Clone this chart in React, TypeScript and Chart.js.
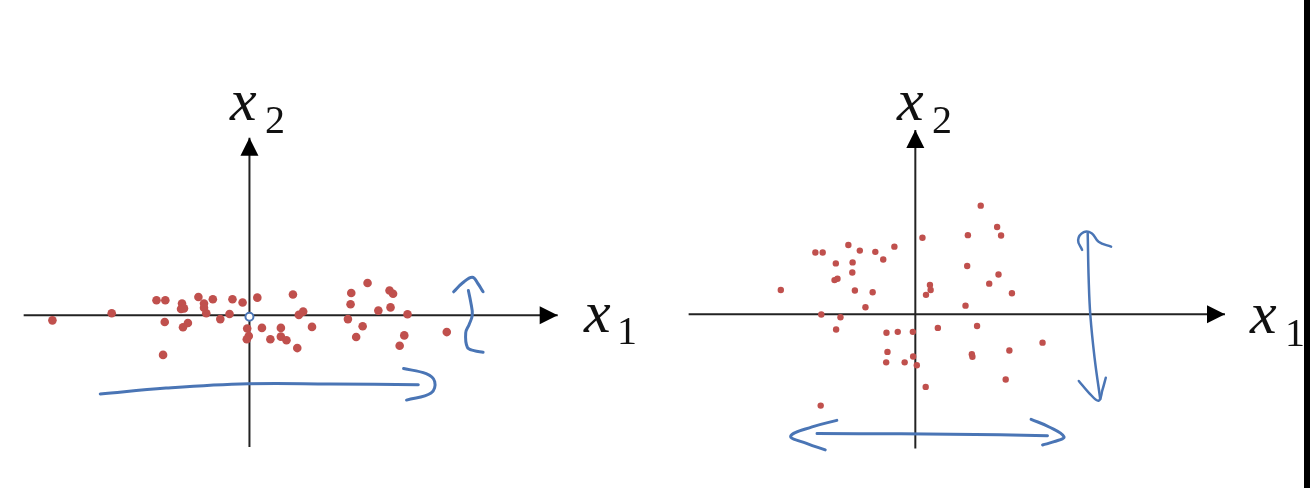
import React, { useEffect, useRef } from "react";
import { Chart, registerables } from "chart.js";

Chart.register(...registerables);

type P = [number, number];

// ---- Left panel data (units relative to the origin) ----
const leftDots: P[] = [
  [-20.07, -0.53], [-14.03, 0.2], [-9.47, 1.53], [-8.57, 1.53], [-8.63, -0.7],
  [-8.8, -4.07], [-6.87, 1.2], [-6.97, 0.63], [-6.67, 0.7], [-6.77, -1.23],
  [-6.27, -0.8], [-5.2, 1.87], [-4.63, 1.2], [-4.63, 0.77], [-4.4, 0.2],
  [-3.73, 1.63], [-2.97, -0.4], [-2.03, 0.13], [-1.73, 1.63], [-0.7, 1.3],
  [-0.23, -1.37], [-0.07, -2.13], [-0.27, -2.47], [0.8, 1.8], [4.43, 2.13],
  [1.27, -1.3], [3.2, -1.3], [2.13, -2.47], [3.2, -2.2], [3.77, -2.57],
  [4.87, -3.37], [5.03, 0.03], [5.47, 0.37], [6.37, -1.2], [10.37, 2.27],
  [10.3, 1.13], [10.03, -0.4], [11.53, -1.13], [10.87, -2.23], [12.03, 3.3],
  [13.13, 0.47], [14.27, 2.53], [14.63, 2.2], [14.37, 0.8], [16.1, 0.1],
  [15.77, -2.07], [15.3, -3.13], [20.1, -1.73],
];
const leftOriginMark: P[] = [[0, -0.15]];
const leftAxisX: P[] = [[-23, 0], [31.4, 0]];
const leftAxisY: P[] = [[0, -13.5], [0, 18.2]];
const leftHorizShaft: P[] = [[-15.2, -8.07], [-8.5, -7.47], [-0.13, -7.03], [8.2, -7.05], [17.2, -7.13]];
const leftHorizHead: P[] = [[15.7, -5.47], [18, -6], [18.87, -6.8], [18.5, -7.97], [16, -8.7]];
const leftVertHead: P[] = [[20.8, 2.4], [21.7, 3.3], [22.7, 3.9], [23.3, 3.2], [23.8, 2.4]];
const leftVertShaft: P[] = [[22.3, 2.53], [22.53, 1.4], [22.7, 0.03], [22.37, -0.97], [22.03, -1.8], [22.2, -3.3], [22.87, -3.63], [23.8, -3.8]];

// ---- Right panel data ----
const rightDots: P[] = [
  [-13.62, 2.48], [-10.12, 6.28], [-9.38, 6.28], [-6.78, 7.05], [-5.62, 6.48],
  [-4.05, 6.35], [-2.12, 6.88], [-3.25, 5.58], [-8.05, 5.18], [-6.35, 5.28],
  [-6.38, 4.25], [-8.18, 3.48], [-7.88, 3.62], [-6.12, 2.42], [-4.32, 2.25],
  [-5.05, 0.72], [-9.52, -0.02], [-7.58, -0.3], [0.72, 7.78], [6.62, 11.05],
  [8.28, 8.88], [8.68, 8.02], [5.32, 8.05], [5.25, 4.92], [8.42, 4.05],
  [7.48, 3.12], [1.48, 2.98], [1.55, 2.48], [1.08, 1.98], [9.78, 2.15],
  [5.08, 0.88], [-8.02, -1.55], [-2.92, -1.88], [-1.78, -1.78], [-0.25, -1.78],
  [-2.82, -3.82], [-2.95, -4.88], [-1.08, -4.88], [-0.22, -4.28], [0.15, -5.18],
  [-9.58, -9.28], [2.28, -1.38], [6.25, -1.18], [12.88, -2.88], [9.52, -3.68],
  [5.72, -4.05], [5.78, -4.32], [1.05, -7.38], [9.15, -6.62],
];
const rightAxisX: P[] = [[-22.95, 0], [31.35, 0]];
const rightAxisY: P[] = [[0, -13.65], [0, 18.75]];
const rightVertShaft: P[] = [[17.45, 8.25], [17.55, 3.55], [17.72, -0.12], [18.15, -4.45], [18.72, -8.62]];
const rightVertTop: P[] = [[16.88, 6.55], [16.48, 7.55], [17.05, 8.35], [17.85, 8.25], [18.55, 7.38], [19.82, 6.88]];
const rightVertBottom: P[] = [[16.55, -6.78], [17.55, -7.95], [18.55, -8.78], [18.95, -7.65], [19.28, -6.45]];
const rightHorizShaft: P[] = [[-9.95, -12.12], [-1.45, -12.15], [8.55, -12.25], [13.38, -12.35]];
const rightHorizLeftHead: P[] = [[-7.95, -10.78], [-10.45, -11.45], [-12.62, -12.38], [-10.95, -13.15], [-9.12, -13.78]];
const rightHorizRightHead: P[] = [[11.72, -10.68], [13.55, -11.45], [15.05, -12.45], [14.05, -12.95], [12.88, -13.28]];

const DOT = "#c0504d";
const BLUE = "#4a75b5";
const AXIS = "#222222";

const toXY = (a: P[]) => a.map(([x, y]) => ({ x, y }));

const stroke = (pts: P[], width = 3) => ({
  type: "line" as const,
  data: toXY(pts),
  showLine: true,
  borderColor: BLUE,
  borderWidth: width,
  tension: 0.4,
  pointRadius: 0,
  fill: false,
  borderCapStyle: "round" as const,
  borderJoinStyle: "round" as const,
});

const axisDs = (pts: P[]) => ({
  type: "line" as const,
  data: toXY(pts),
  showLine: true,
  borderColor: AXIS,
  borderWidth: 2,
  tension: 0,
  pointRadius: 0,
  fill: false,
  isAxis: true,
});

type Label = { x: number; y: number; sub: string; sx: number; sy: number };

function drawLabel(ctx: CanvasRenderingContext2D, l: Label) {
  ctx.save();
  ctx.fillStyle = "#111";
  ctx.textBaseline = "alphabetic";
  ctx.font = 'italic 60px "Liberation Serif"';
  ctx.fillText("x", l.x, l.y);
  ctx.font = '40px "Liberation Serif"';
  ctx.fillText(l.sub, l.sx, l.sy);
  ctx.restore();
}

const makePlugin = (labels: Label[], strip: boolean) => ({
  id: "decor",
  beforeDraw(chart: any) {
    const { ctx, width, height } = chart;
    ctx.save();
    ctx.fillStyle = "#fff";
    ctx.fillRect(0, 0, width, height);
    ctx.restore();
  },
  afterDatasetsDraw(chart: any) {
    const ctx: CanvasRenderingContext2D = chart.ctx;
    chart.data.datasets.forEach((ds: any, i: number) => {
      if (!ds.isAxis) return;
      const meta = chart.getDatasetMeta(i);
      const n = meta.data.length;
      const a = meta.data[n - 2];
      const b = meta.data[n - 1];
      const ang = Math.atan2(b.y - a.y, b.x - a.x);
      const len = 18;
      const half = 9;
      ctx.save();
      ctx.translate(b.x, b.y);
      ctx.rotate(ang);
      ctx.fillStyle = "#000";
      ctx.beginPath();
      ctx.moveTo(0, 0);
      ctx.lineTo(-len, -half);
      ctx.lineTo(-len, half);
      ctx.closePath();
      ctx.fill();
      ctx.restore();
    });
    labels.forEach((l) => drawLabel(ctx, l));
    if (strip) {
      ctx.save();
      ctx.fillStyle = "#000";
      ctx.fillRect(chart.width - 6, 0, 6, chart.height);
      ctx.restore();
    }
  },
});

function Panel(props: {
  datasets: any[];
  xr: [number, number];
  yr: [number, number];
  labels: Label[];
  strip?: boolean;
}) {
  const ref = useRef<HTMLCanvasElement | null>(null);
  useEffect(() => {
    if (!ref.current) return;
    const chart = new Chart(ref.current, {
      type: "scatter",
      data: { datasets: props.datasets },
      options: {
        animation: false,
        responsive: false,
        maintainAspectRatio: false,
        layout: { padding: 0 },
        plugins: { legend: { display: false }, tooltip: { enabled: false } },
        scales: {
          x: { type: "linear", min: props.xr[0], max: props.xr[1], display: false },
          y: { type: "linear", min: props.yr[0], max: props.yr[1], display: false },
        },
      },
      plugins: [makePlugin(props.labels, !!props.strip)],
    } as any);
    return () => chart.destroy();
  }, []);
  return <canvas ref={ref} width={655} height={488} style={{ display: "block" }} />;
}

export default function App() {
  const leftDatasets = [
    {
      data: toXY(leftOriginMark),
      pointRadius: 4,
      pointBorderWidth: 2,
      pointBorderColor: BLUE,
      pointBackgroundColor: "#ffffff",
    },
    stroke(leftHorizShaft),
    stroke(leftHorizHead),
    stroke(leftVertHead),
    stroke(leftVertShaft),
    {
      data: toXY(leftDots),
      pointRadius: 4.3,
      pointBorderWidth: 0,
      pointBackgroundColor: DOT,
    },
    axisDs(leftAxisX),
    axisDs(leftAxisY),
  ];
  const rightDatasets = [
    stroke(rightVertShaft, 2.5),
    stroke(rightVertTop, 2.5),
    stroke(rightVertBottom, 2.5),
    stroke(rightHorizShaft, 3),
    stroke(rightHorizLeftHead, 3),
    stroke(rightHorizRightHead, 3),
    {
      data: toXY(rightDots),
      pointRadius: 3.2,
      pointBorderWidth: 0,
      pointBackgroundColor: DOT,
    },
    axisDs(rightAxisX),
    axisDs(rightAxisY),
  ];
  return (
    <div style={{ position: "fixed", left: 0, top: 0, width: 1310, height: 488, display: "flex", background: "#fff" }}>
      <Panel
        datasets={leftDatasets}
        xr={[-24.8, 40.7]}
        yr={[-17.1, 31.7]}
        labels={[
          { x: 230, y: 120, sub: "2", sx: 265, sy: 133 },
          { x: 584, y: 332, sub: "1", sx: 617, sy: 344 },
        ]}
      />
      <Panel
        datasets={rightDatasets}
        xr={[-25.95, 39.55]}
        yr={[-17.25, 31.55]}
        labels={[
          { x: 242, y: 120, sub: "2", sx: 277, sy: 133 },
          { x: 595, y: 333, sub: "1", sx: 630, sy: 346 },
        ]}
        strip
      />
    </div>
  );
}
